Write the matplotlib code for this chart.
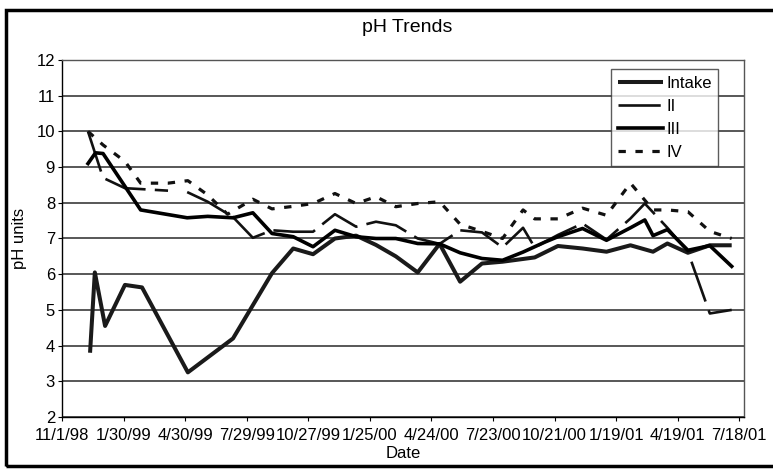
import matplotlib
matplotlib.use("Agg")
import matplotlib.pyplot as plt
import matplotlib.transforms as mtransforms
from matplotlib.patches import Rectangle
from datetime import datetime, timedelta

nan = float("nan")

# ---------------- data ----------------
intake_dates = ["12/12/98", "12/19/98", "1/3/99", "2/1/99", "2/26/99", "5/4/99", "7/9/99",
                "9/4/99", "10/5/99", "11/3/99", "12/5/99", "1/5/00", "2/3/00", "3/3/00",
                "4/4/00", "5/6/00", "6/5/00", "7/7/00", "8/6/00", "9/22/00", "10/26/00",
                "12/1/00", "1/5/01", "2/9/01", "3/14/01", "4/4/01", "5/4/01", "6/5/01", "7/7/01"]
intake_ph = [3.8, 6.05, 4.55, 5.7, 5.63, 3.25, 4.2, 6.03, 6.72, 6.56, 7.0, 7.08, 6.82, 6.5,
             6.05, 6.85, 5.79, 6.3, 6.35, 6.47, 6.79, 6.72, 6.63, 6.81, 6.63, 6.86, 6.6, 6.81, 6.81]

ii_dates = ["12/9/98", "12/31/98", "2/1/99", "4/5/99", "4/20/99", "5/3/99", "6/2/99", "7/9/99",
            "8/7/99", "9/4/99", "10/5/99", "11/3/99", "12/5/99", "1/5/00", "2/3/00", "3/3/00",
            "4/4/00", "5/6/00", "6/5/00", "7/7/00", "8/6/00", "9/5/00", "9/22/00", "10/26/00",
            "12/1/00", "1/5/01", "2/9/01", "3/2/01", "4/4/01", "5/4/01", "6/5/01", "7/7/01"]
ii_ph = [10.0, 8.7, 8.41, 8.34, nan, 8.3, 8.03, 7.6, 7.02, 7.23, 7.19, 7.19, 7.68, 7.33, 7.47,
         7.37, 7.0, 6.85, 7.23, 7.17, 6.75, 7.3, 6.75, 7.1, 7.42, 6.97, 7.56, 7.98, 7.3, 6.63,
         4.9, 5.0]

iii_dates = ["12/9/98", "12/20/98", "12/31/98", "2/24/99", "5/3/99", "6/2/99", "7/9/99",
             "8/7/99", "9/4/99", "10/5/99", "11/3/99", "12/5/99", "1/5/00", "2/3/00", "3/3/00",
             "4/4/00", "5/6/00", "6/5/00", "7/7/00", "8/6/00", "9/5/00", "10/7/00", "10/26/00",
             "12/1/00", "1/5/01", "2/9/01", "3/2/01", "3/14/01", "4/4/01", "5/4/01", "6/5/01",
             "7/7/01"]
iii_ph = [9.1, 9.4, 9.38, 7.8, 7.58, 7.62, 7.58, 7.72, 7.14, 7.05, 6.77, 7.23, 7.05, 7.0, 7.0,
          6.86, 6.85, 6.6, 6.44, 6.39, 6.62, 6.9, 7.05, 7.28, 6.95, 7.3, 7.52, 7.08, 7.25, 6.67,
          6.8, 6.22]

iv_dates = ["12/9/98", "12/31/98", "2/1/99", "2/24/99", "4/5/99", "5/4/99", "6/2/99", "7/1/99",
            "8/7/99", "9/4/99", "10/5/99", "11/3/99", "12/5/99", "1/5/00", "2/3/00", "3/3/00",
            "4/4/00", "5/6/00", "6/5/00", "7/7/00", "8/6/00", "9/5/00", "9/22/00", "10/26/00",
            "12/1/00", "1/5/01", "2/9/01", "3/14/01", "4/4/01", "5/4/01", "6/5/01", "7/7/01"]
iv_ph = [10.0, 9.62, 9.16, 8.55, 8.55, 8.62, 8.22, 7.68, 8.1, 7.83, 7.9, 7.98, 8.26, 7.98, 8.17,
         7.89, 7.98, 8.03, 7.4, 7.2, 7.0, 7.8, 7.55, 7.55, 7.85, 7.65, 8.55, 7.8, 7.8, 7.75,
         7.2, 7.0]

x_tick_labels = ["11/1/98", "1/30/99", "4/30/99", "7/29/99", "10/27/99", "1/25/00", "4/24/00",
                 "7/23/00", "10/21/00", "1/19/01", "4/19/01", "7/18/01"]
y_ticks = [2, 3, 4, 5, 6, 7, 8, 9, 10, 11, 12]


def to_dt(s):
    return datetime.strptime(s, "%m/%d/%y")


# ---------------- figure ----------------
plt.rcParams["font.family"] = ["Liberation Sans", "DejaVu Sans"]
W, H = 773, 469
fig = plt.figure(figsize=(W / 100, H / 100), dpi=100)
fig.patch.set_facecolor("white")

ax = fig.add_axes([62 / W, 1 - 417 / H, (744 - 62) / W, (417 - 60) / H])

series = [
    ("Intake", intake_dates, intake_ph, dict(lw=2.9, color="#1a1a1a", solid_capstyle="butt")),
    ("II", ii_dates, ii_ph, dict(lw=1.9, color="#111111", dashes=(16, 3.5))),
    ("III", iii_dates, iii_ph, dict(lw=2.6, color="#000000")),
    ("IV", iv_dates, iv_ph, dict(lw=2.3, color="#111111", dashes=(2.3, 3.0))),
]
for name, d, v, st in series:
    ax.plot([to_dt(s) for s in d], v, label=name, **st)

start = to_dt(x_tick_labels[0])
ax.set_xlim(start, start + timedelta(days=997))
ax.set_ylim(2, 12)
ax.set_yticks(y_ticks)
ax.yaxis.grid(True, color="#4a4a4a", lw=1.3)
ax.set_axisbelow(True)

ax.set_xticks([to_dt(s) for s in x_tick_labels])
ax.set_xticklabels(x_tick_labels, fontsize=12)
offset = mtransforms.ScaledTranslation(10 / 100, 0, fig.dpi_scale_trans)
for lab in ax.get_xticklabels():
    lab.set_transform(lab.get_transform() + offset)
ax.tick_params(axis="x", length=3, pad=5, direction="out")
ax.tick_params(axis="y", length=3, pad=2, labelsize=12, direction="out")

for side in ["left", "bottom"]:
    ax.spines[side].set_color("black")
    ax.spines[side].set_linewidth(1.0)
for side in ["top", "right"]:
    ax.spines[side].set_color("#555555")
    ax.spines[side].set_linewidth(1.0)

ax.set_xlabel("Date", fontsize=12, labelpad=2)
ax.set_ylabel("pH units", fontsize=12, labelpad=7)

fig.text(407 / W, 1 - 28 / H, "pH Trends", ha="center", va="center", fontsize=14)

leg = ax.legend(loc="upper left", bbox_to_anchor=(611 / W, 1 - 69 / H),
                bbox_transform=fig.transFigure, frameon=True, fancybox=False,
                edgecolor="#333333", fontsize=12, handlelength=2.7, handletextpad=0.2,
                labelspacing=0.48, borderpad=0.4, borderaxespad=0)
leg.get_frame().set_linewidth(1.0)

# outer chart border
fig.patches.append(Rectangle((6 / W, 3 / H), 1.2, (466 - 10) / H, transform=fig.transFigure,
                             fill=False, lw=2.5, edgecolor="black"))

fig.savefig("out.png", dpi=100)
